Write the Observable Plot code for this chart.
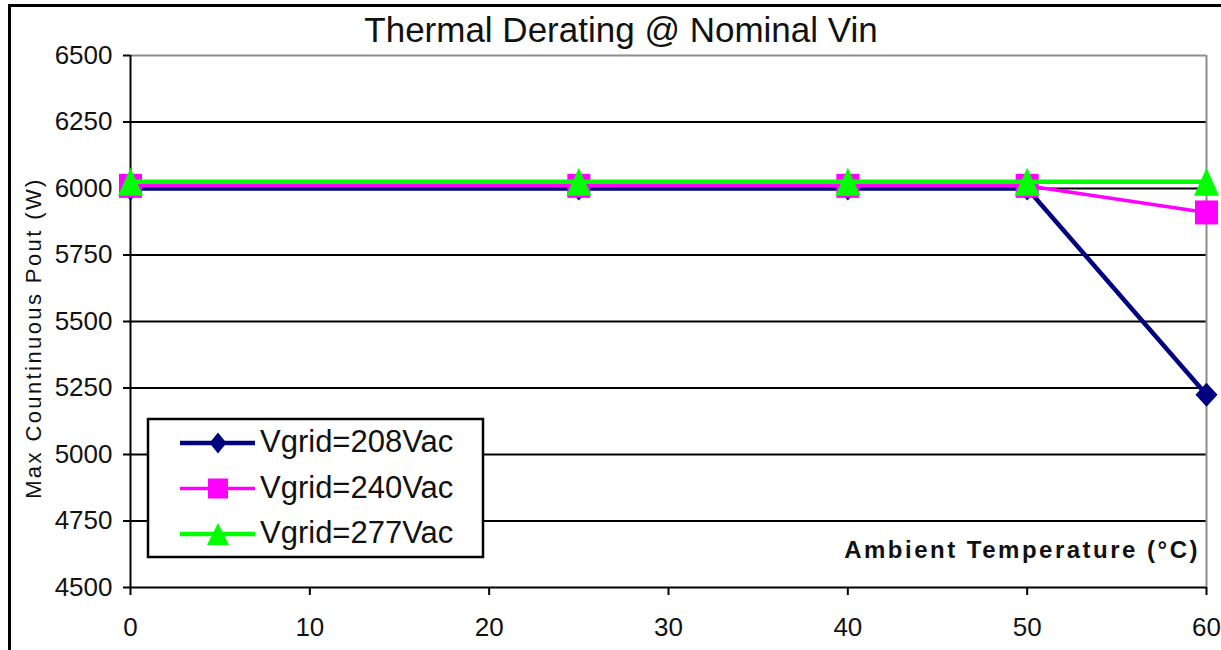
<!DOCTYPE html>
<html>
<head>
<meta charset="utf-8">
<script src="https://cdn.jsdelivr.net/npm/d3@7"></script>
<script src="https://cdn.jsdelivr.net/npm/@observablehq/plot@0.6"></script>
<style>
  body { margin: 0; background: #fff; font-family: "Liberation Sans", Arial, sans-serif; }
  #wrap { position: relative; width: 1221px; height: 650px; overflow: hidden; background: #fff; }
  #wrap > svg { position: absolute; left: 0; top: 0; }
</style>
</head>
<body>
<div id="wrap"></div>
<script>
// ---- data ----
const temps = [0, 25, 40, 50, 60];
const v208 = [6000, 6000, 6000, 6000, 5225];
const v240 = [6010, 6010, 6010, 6010, 5910];
const v277 = [6025, 6025, 6025, 6025, 6025];
const seriesNames = ["Vgrid=208Vac", "Vgrid=240Vac", "Vgrid=277Vac"];
const yTicks = [4500, 4750, 5000, 5250, 5500, 5750, 6000, 6250, 6500];
const xTicks = [0, 10, 20, 30, 40, 50, 60];
const titleText = "Thermal Derating @ Nominal Vin";
const yLabel = "Max Countinuous Pout (W)";
const xLabel = "Ambient Temperature (°C)";

// ---- styling ----
const FONT = "Liberation Sans, Arial, sans-serif";
function drawShape(ctx, kind, hw, hh) {
  if (kind === "diamond") {
    ctx.moveTo(0, -hh); ctx.lineTo(hw, 0); ctx.lineTo(0, hh); ctx.lineTo(-hw, 0); ctx.closePath();
  } else if (kind === "square") {
    ctx.moveTo(-hw, -hh); ctx.lineTo(hw, -hh); ctx.lineTo(hw, hh); ctx.lineTo(-hw, hh); ctx.closePath();
  } else {
    ctx.moveTo(0, -hh); ctx.lineTo(hw, hh); ctx.lineTo(-hw, hh); ctx.closePath();
  }
}
function makeSymbol(kind, hw, hh) {
  return { draw(ctx) { drawShape(ctx, kind, hw, hh); } };
}
const styles = [
  { color: "#000080", kind: "diamond", hw: 11, hh: 12, lw: 4.5, lhw: 8.5, lhh: 10.5 },
  { color: "#ff00ff", kind: "square", hw: 11.5, hh: 12, lw: 3.5, lhw: 10, lhh: 10 },
  { color: "#00ff00", kind: "triangle", hw: 12.5, hh: 14, lw: 4.5, lhw: 11, lhh: 11 }
];
const valueSets = [v208, v240, v277];
const series = seriesNames.map((name, i) => ({
  name, ...styles[i],
  rows: temps.map((t, j) => ({ t, v: valueSets[i][j] }))
}));

const W = 1221, H = 650;
const marks = [
  Plot.ruleY(yTicks.filter(v => v > 4500 && v < 6500), { stroke: "#000", strokeWidth: 2 }),
  Plot.ruleY([6500], { stroke: "#8c8c8c", strokeWidth: 2 }),
  Plot.ruleX([60], { stroke: "#8c8c8c", strokeWidth: 2 }),
  Plot.ruleX([0], { stroke: "#000", strokeWidth: 2 }),
  Plot.ruleY([4500], { stroke: "#000", strokeWidth: 2 }),
  Plot.axisY(yTicks, { tickSize: 7, tickPadding: 11, fontSize: 26, strokeWidth: 2, label: null, tickFormat: d => String(d), fill: "#111" }),
  Plot.axisX(xTicks, { tickSize: 8, tickPadding: 22, fontSize: 26, strokeWidth: 2, label: null, tickFormat: d => String(d), fill: "#111" })
];
for (const s of series) {
  marks.push(Plot.line(s.rows, { x: "t", y: "v", stroke: s.color, strokeWidth: s.lw }));
  marks.push(Plot.dot(s.rows, { x: "t", y: "v", symbol: makeSymbol(s.kind, s.hw, s.hh), fill: s.color, stroke: "none", r: 10 }));
}

const chart = Plot.plot({
  width: W, height: H,
  marginLeft: 130, marginRight: 15, marginTop: 55, marginBottom: 63,
  x: { domain: [0, 60] },
  y: { domain: [4500, 6500] },
  style: { fontFamily: FONT, background: "transparent", color: "#000", overflow: "visible" },
  marks
});
document.getElementById("wrap").appendChild(chart);

// ---- overlay: frame, title, axis titles, legend ----
const ov = d3.select("#wrap").append("svg")
  .attr("width", W).attr("height", H)
  .style("font-family", FONT);

ov.append("rect").attr("x", 9.5).attr("y", 5.5).attr("width", 1240).attr("height", 700)
  .attr("fill", "none").attr("stroke", "#000").attr("stroke-width", 3);

ov.append("text").attr("x", 621).attr("y", 42).attr("text-anchor", "middle")
  .attr("font-size", 35).attr("fill", "#111").text(titleText);

ov.append("text").attr("transform", "translate(41,338) rotate(-90)")
  .attr("text-anchor", "middle").attr("font-size", 22).attr("letter-spacing", "2.4px")
  .attr("fill", "#111").text(yLabel);

ov.append("text").attr("x", 1200).attr("y", 558).attr("text-anchor", "end")
  .attr("font-size", 24).attr("font-weight", "bold").attr("letter-spacing", "2.5px")
  .attr("fill", "#111").text(xLabel);

const lg = ov.append("g");
lg.append("rect").attr("x", 148).attr("y", 419).attr("width", 335).attr("height", 138)
  .attr("fill", "#fff").attr("stroke", "#000").attr("stroke-width", 2.5);
series.forEach((s, i) => {
  const y = 443 + i * 45.5;
  lg.append("line").attr("x1", 180).attr("x2", 255).attr("y1", y).attr("y2", y)
    .attr("stroke", s.color).attr("stroke-width", s.lw);
  const p = d3.path();
  drawShape(p, s.kind, s.lhw, s.lhh);
  lg.append("path").attr("d", p.toString()).attr("transform", `translate(218,${y})`).attr("fill", s.color);
  lg.append("text").attr("x", 260).attr("y", y + 9).attr("font-size", 31).attr("fill", "#111").text(s.name);
});
</script>
</body>
</html>
